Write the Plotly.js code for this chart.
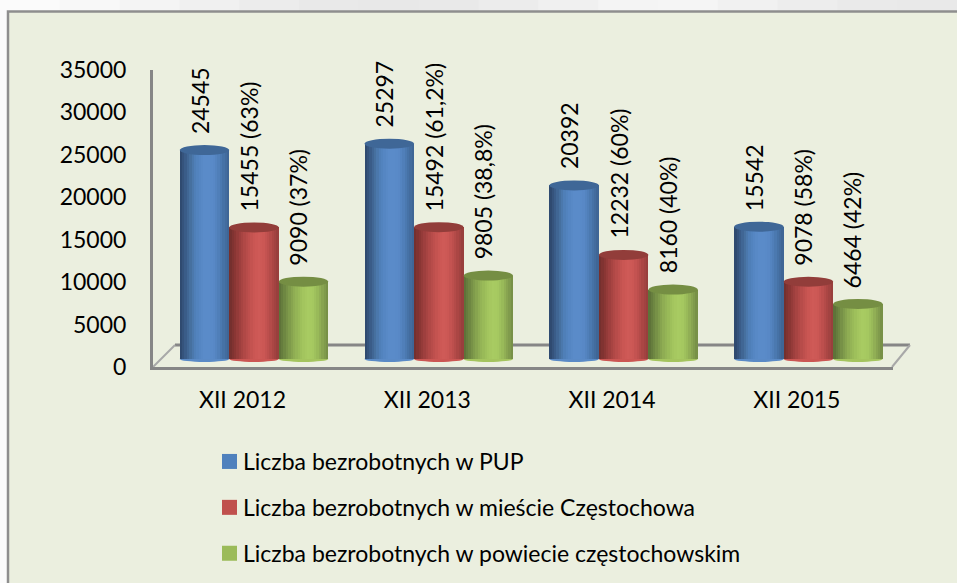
<!DOCTYPE html>
<html><head><meta charset="utf-8">
<script src="https://cdn.plot.ly/plotly-3.0.1.min.js"></script>
<style>html,body{margin:0;padding:0;background:#fff}#c{width:957px;height:583px}</style>
</head><body><div id="c"></div>
<script>
const categories = ['XII 2012','XII 2013','XII 2014','XII 2015'];
const yTicks = [0,5000,10000,15000,20000,25000,30000,35000];
const pupValues = [24545,25297,20392,15542];
const cityValues = [15455,15492,12232,9078];
const countyValues = [9090,9805,8160,6464];
const pupLabels = ['24545','25297','20392','15542'];
const cityLabels = ['15455 (63%)','15492 (61,2%)','12232 (60%)','9078 (58%)'];
const countyLabels = ['9090 (37%)','9805 (38,8%)','8160 (40%)','6464 (42%)'];
const seriesNames = ['Liczba bezrobotnych w PUP','Liczba bezrobotnych w mieście Częstochowa','Liczba bezrobotnych w powiecie częstochowskim'];

const FONT = 'Lato, sans-serif';
const W=957,H=583,L=153,R=893,T=70,B=367;
const xs = categories.map((_,i)=>i);
const xLo = -(242.5-L)/184.8, xHi = (R-242.5)/184.8;
const barW = 49.5/184.8;
const groupShift = 11.5/184.8;
const pxPerVal = 0.00851, basePx = 359;
const y2Range = [-(B-basePx)/pxPerVal,(basePx-T)/pxPerVal];

const series = [
 {vals:pupValues,labels:pupLabels,slot:-1,legend:'#4F81BD',top:'#3F6797',foot:'#5A8AC6',shade:['#2F4A70','#3A5C88','#46709F','#4F7FB8','#5586C3','#5A8BC9','#5A8BC9','#5888C6','#507FB9','#4672A6','#3F6696']},
 {vals:cityValues,labels:cityLabels,slot:0,legend:'#C0504D',top:'#923D3A',foot:'#CB5653',shade:['#75302E','#8A3634','#9E3F3E','#B04846','#BE4F4D','#CA5653','#CF5A57','#CB5754','#BD4F4D','#AB4644','#993F3D']},
 {vals:countyValues,labels:countyLabels,slot:1,legend:'#9BBB59',top:'#758E43',foot:'#A4C45E',shade:['#5E7339','#6E8742','#7F9B4B','#8FAD53','#99BA58','#A3C55E','#A8CB62','#A5C860','#99BA59','#88A450','#789147']}
];
// page band above the panel: light at the corner, grey mid-way, light again, grey at the end
const topBandTones = ['#FBFBFB','#F8F8F8','#F4F4F4','#F0F0F0','#ECECEC','#E9E9E9','#E8E8E8','#E9E9E9','#ECECEC','#F0F0F0','#F4F4F4','#F5F5F5','#F1F1F1','#EDEDED','#EAEAEA','#E9E9E9'];
// smooth the cylinder shading by inserting in-between tones
const hex=c=>[1,3,5].map(i=>parseInt(c.substr(i,2),16));
const mix=(a,b)=>{const A=hex(a),B=hex(b);return 'rgb('+A.map((v,i)=>Math.round((v+B[i])/2)).join(',')+')';};
const smooth=list=>list.flatMap((c,i)=>i<list.length-1?[c,mix(c,list[i+1])]:[c]);

const traces=[];
// invisible trace keeps the labelled value axis alive
traces.push({type:'scatter',mode:'none',x:[0],y:[0],xaxis:'x',yaxis:'y',showlegend:false,hoverinfo:'skip'});
const shapes=[], annotations=[];
series.forEach(s=>{
  const gx = barW*s.slot+groupShift;
  const tones=smooth(s.shade), sw=barW/tones.length;
  xs.forEach((x,i)=>{
    shapes.push({type:'circle',layer:'below',xref:'x',yref:'y2',ysizemode:'pixel',yanchor:0,
      x0:x+gx-barW/2,x1:x+gx+barW/2,y0:-3,y1:3,fillcolor:s.foot,line:{width:0}});
    shapes.push({type:'circle',layer:'above',xref:'x',yref:'y2',ysizemode:'pixel',yanchor:s.vals[i],
      x0:x+gx-barW/2,x1:x+gx+barW/2,y0:-5,y1:5,fillcolor:s.top,line:{width:0}});
    annotations.push({x:x+gx,y:s.vals[i],xref:'x',yref:'y2',text:s.labels[i],showarrow:false,textangle:-90,
      xanchor:'center',yanchor:'bottom',xshift:-5,yshift:14,font:{family:FONT,size:23,color:'#000'}});
  });
  tones.forEach((c,k)=>{
    traces.push({type:'bar',x:xs,y:s.vals,xaxis:'x',yaxis:'y2',showlegend:false,hoverinfo:'skip',
      offset:gx-barW/2+k*sw,width:barW-k*sw,marker:{color:c,line:{width:0}}});
  });
});
// legend entries
series.forEach((s,i)=>{
  traces.push({type:'scatter',mode:'markers',x:[null],y:[null],xaxis:'x',yaxis:'y2',name:seriesNames[i],
    legendgroup:'g'+i,marker:{symbol:'square',size:15,color:s.legend},hoverinfo:'skip'});
});
const px=v=>(v-L)/(R-L), py=v=>(B-v)/(B-T);
const floorLine={color:'#868686',width:3};
const bandStep=W/topBandTones.length;
const bands=topBandTones.map((c,i)=>({type:'rect',layer:'below',xref:'paper',yref:'paper',
  x0:px(i*bandStep),x1:px((i+1)*bandStep+1),y0:py(-5),y1:py(11),fillcolor:c,line:{width:0}}));
shapes.unshift(...bands,
 {type:'rect',layer:'below',xref:'paper',yref:'paper',x0:px(8),x1:px(1000),y0:py(11.5),y1:py(640),fillcolor:'#EBEFDF',line:{color:'#8E8E8E',width:2.5}},
 {type:'line',layer:'below',xref:'paper',yref:'paper',x0:px(175),x1:px(910),y0:py(345),y1:py(345),line:floorLine},
 {type:'line',layer:'below',xref:'paper',yref:'paper',x0:px(153),x1:px(175),y0:py(367),y1:py(345),line:{color:'#A8A8A8',width:2}},
 {type:'line',layer:'below',xref:'paper',yref:'paper',x0:px(892),x1:px(910),y0:py(367),y1:py(345),line:{color:'#A8A8A8',width:2}}
);
const layout={
 width:W,height:H,margin:{l:L,r:W-R,t:T,b:H-B,pad:0,autoexpand:false},
 paper_bgcolor:'#FBFBFB',plot_bgcolor:'rgba(0,0,0,0)',
 font:{family:FONT,color:'#000',size:23},
 barmode:'overlay',bargap:0,
 xaxis:{range:[xLo,xHi],tickmode:'array',tickvals:xs,ticktext:categories,showgrid:false,zeroline:false,
   showline:true,linecolor:'#868686',linewidth:3,ticks:'',tickfont:{family:FONT,size:23,color:'#000'},ticklabelstandoff:10},
 yaxis:{range:[0,35000],tickmode:'array',tickvals:yTicks,ticktext:yTicks.map(String),showgrid:false,zeroline:false,
   showline:true,linecolor:'#868686',linewidth:3,ticks:'',tickfont:{family:FONT,size:23,color:'#000'},ticklabelstandoff:19},
 yaxis2:{overlaying:'y',range:y2Range,visible:false},
 legend:{x:px(203),xanchor:'left',y:py(440),yanchor:'top',bgcolor:'rgba(0,0,0,0)',font:{family:FONT,size:23,color:'#000'},tracegroupgap:13,itemclick:false,itemdoubleclick:false},
 shapes:shapes,annotations:annotations,showlegend:true
};
Plotly.newPlot('c',traces,layout,{displayModeBar:false,staticPlot:true}).then(gd=>{
  gd.querySelectorAll('.legendpoints').forEach(g=>g.setAttribute('transform','translate(6.5,0)'));
});
</script></body></html>
